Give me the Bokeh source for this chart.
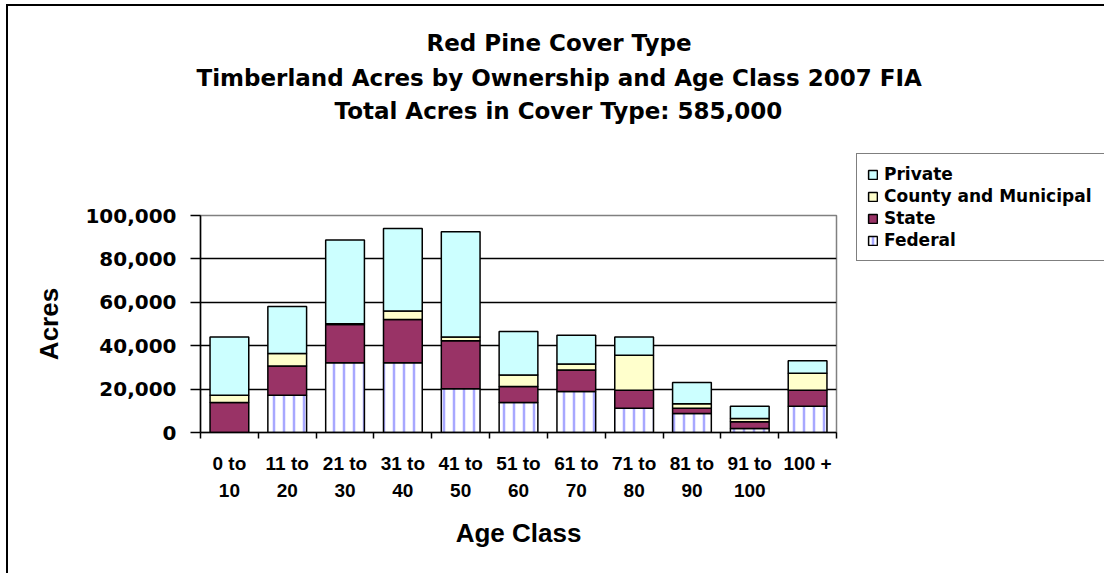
from bokeh.plotting import figure
from bokeh.models import (ColumnDataSource, FixedTicker, NumeralTickFormatter,
                          Legend, LegendItem, Title, Range1d)
from bokeh.core.properties import value
from bokeh.embed import file_html
from bokeh.resources import INLINE

# ---- data ----
age_classes = ["0 to\n10", "11 to\n20", "21 to\n30", "31 to\n40", "41 to\n50",
               "51 to\n60", "61 to\n70", "71 to\n80", "81 to\n90", "91 to\n100", "100 +"]
federal = [0, 17200, 32200, 32200, 20200, 13800, 18900, 11200, 8700, 1800, 12100]
state = [13800, 13500, 17600, 19900, 22100, 7400, 9900, 8300, 2500, 3100, 7400]
county = [3400, 5700, 300, 3900, 1700, 5300, 2800, 16100, 2000, 1500, 7800]
private = [26800, 21700, 38600, 38000, 48500, 20000, 13200, 8400, 9800, 5700, 5800]
series_names = ["Federal", "State", "County and Municipal", "Private"]
y_ticks = [0, 20000, 40000, 60000, 80000, 100000]
title_lines = ["Red Pine Cover Type",
               "Timberland Acres by Ownership and Age Class 2007 FIA",
               "Total Acres in Cover Type: 585,000"]

# ---- styling ----
colors = ["#FFFFFF", "#993366", "#FFFFCC", "#CCFFFF"]
hatches = ["|", " ", " ", " "]
BOLD_SANS = "Liberation Sans"
WIDE = "DejaVu Sans"

n = len(age_classes)
centers = [i + 0.5 for i in range(n)]
src = ColumnDataSource(dict(x=centers, Federal=federal, State=state,
                            **{"County and Municipal": county}, Private=private))

p = figure(frame_width=636, frame_height=217,
           x_range=Range1d(0, n), y_range=Range1d(0, 100000),
           output_backend="svg", toolbar_location=None,
           min_border_left=192, min_border_right=266,
           min_border_top=209, min_border_bottom=141)
p.title.visible = False
p.styles = {"margin-left": "6px", "margin-top": "4px",
            "border-left": "2px solid black", "border-top": "2px solid black"}
p.outline_line_color = "#808080"
p.outline_line_width = 1.5
p.background_fill_color = "white"
p.border_fill_color = "white"

renderers = p.vbar_stack(series_names, x="x", width=0.67, source=src,
                         fill_color=colors, line_color="black", line_width=1.5,
                         hatch_pattern=hatches, hatch_color="#9999FF",
                         hatch_weight=2.5, hatch_scale=10, hatch_alpha=0.85)

# x axis
xa = p.xaxis[0]
xa.ticker = FixedTicker(ticks=centers, minor_ticks=list(range(n + 1)))
xa.major_label_overrides = {c: lab for c, lab in zip(centers, age_classes)}
xa.major_tick_out = 0
xa.major_tick_in = 0
xa.minor_tick_out = 6
xa.minor_tick_in = 0
xa.minor_tick_line_color = "black"
xa.minor_tick_line_width = 1.5
xa.axis_line_color = "black"
xa.axis_line_width = 1.5
xa.major_label_text_font = BOLD_SANS
xa.major_label_text_font_style = "bold"
xa.major_label_text_font_size = "19px"
xa.major_label_text_line_height = 1.3
xa.major_label_text_color = "black"
xa.major_label_standoff = 14
xa.axis_label = "Age Class"
xa.axis_label_text_font = BOLD_SANS
xa.axis_label_text_font_style = "bold"
xa.axis_label_text_font_size = "26px"
xa.axis_label_text_color = "black"
xa.axis_label_standoff = 14

# y axis
ya = p.yaxis[0]
ya.ticker = FixedTicker(ticks=y_ticks, minor_ticks=[])
ya.formatter = NumeralTickFormatter(format="0,0")
ya.major_tick_out = 10
ya.major_tick_in = 0
ya.major_tick_line_color = "black"
ya.major_tick_line_width = 1.5
ya.axis_line_color = "black"
ya.axis_line_width = 1.5
ya.major_label_text_font = WIDE
ya.major_label_text_font_style = "bold"
ya.major_label_text_font_size = "20px"
ya.major_label_text_color = "black"
ya.major_label_standoff = 14
ya.axis_label = "Acres"
ya.axis_label_text_font = BOLD_SANS
ya.axis_label_text_font_style = "bold"
ya.axis_label_text_font_size = "26px"
ya.axis_label_text_color = "black"
ya.axis_label_standoff = 18

p.xgrid.visible = False
p.ygrid.grid_line_color = "black"
p.ygrid.grid_line_width = 1.5

# legend (reverse stacking order), placed in the right-hand panel
items = [LegendItem(label=value(series_names[i]), renderers=[renderers[i]]) for i in (3, 2, 1, 0)]
legend = Legend(items=items, location=(20, 171),
                border_line_color="black", border_line_width=1.5,
                label_text_font=WIDE, label_text_font_style="bold",
                label_text_font_size="17px", label_text_color="black",
                glyph_width=11, glyph_height=11, label_height=19, spacing=2,
                padding=10, margin=0, label_standoff=6, label_width=213,
                background_fill_color="white", background_fill_alpha=1)
p.add_layout(legend, "right")

# title lines: added from the one nearest the plot outward
title_pad_bottom = [88, 0, 0]
for txt, so, off, pb in zip(reversed(title_lines), [8, 1, 13], [134, -4, 226], title_pad_bottom):
    p.add_layout(Title(text=txt, align="left", offset=off, standoff=so,
                       padding=dict(left=0, right=0, top=0, bottom=pb),
                       text_font=WIDE, text_font_style="bold",
                       text_font_size="23px", text_color="black"), "above")

open("out.html", "w").write(file_html(p, INLINE))
